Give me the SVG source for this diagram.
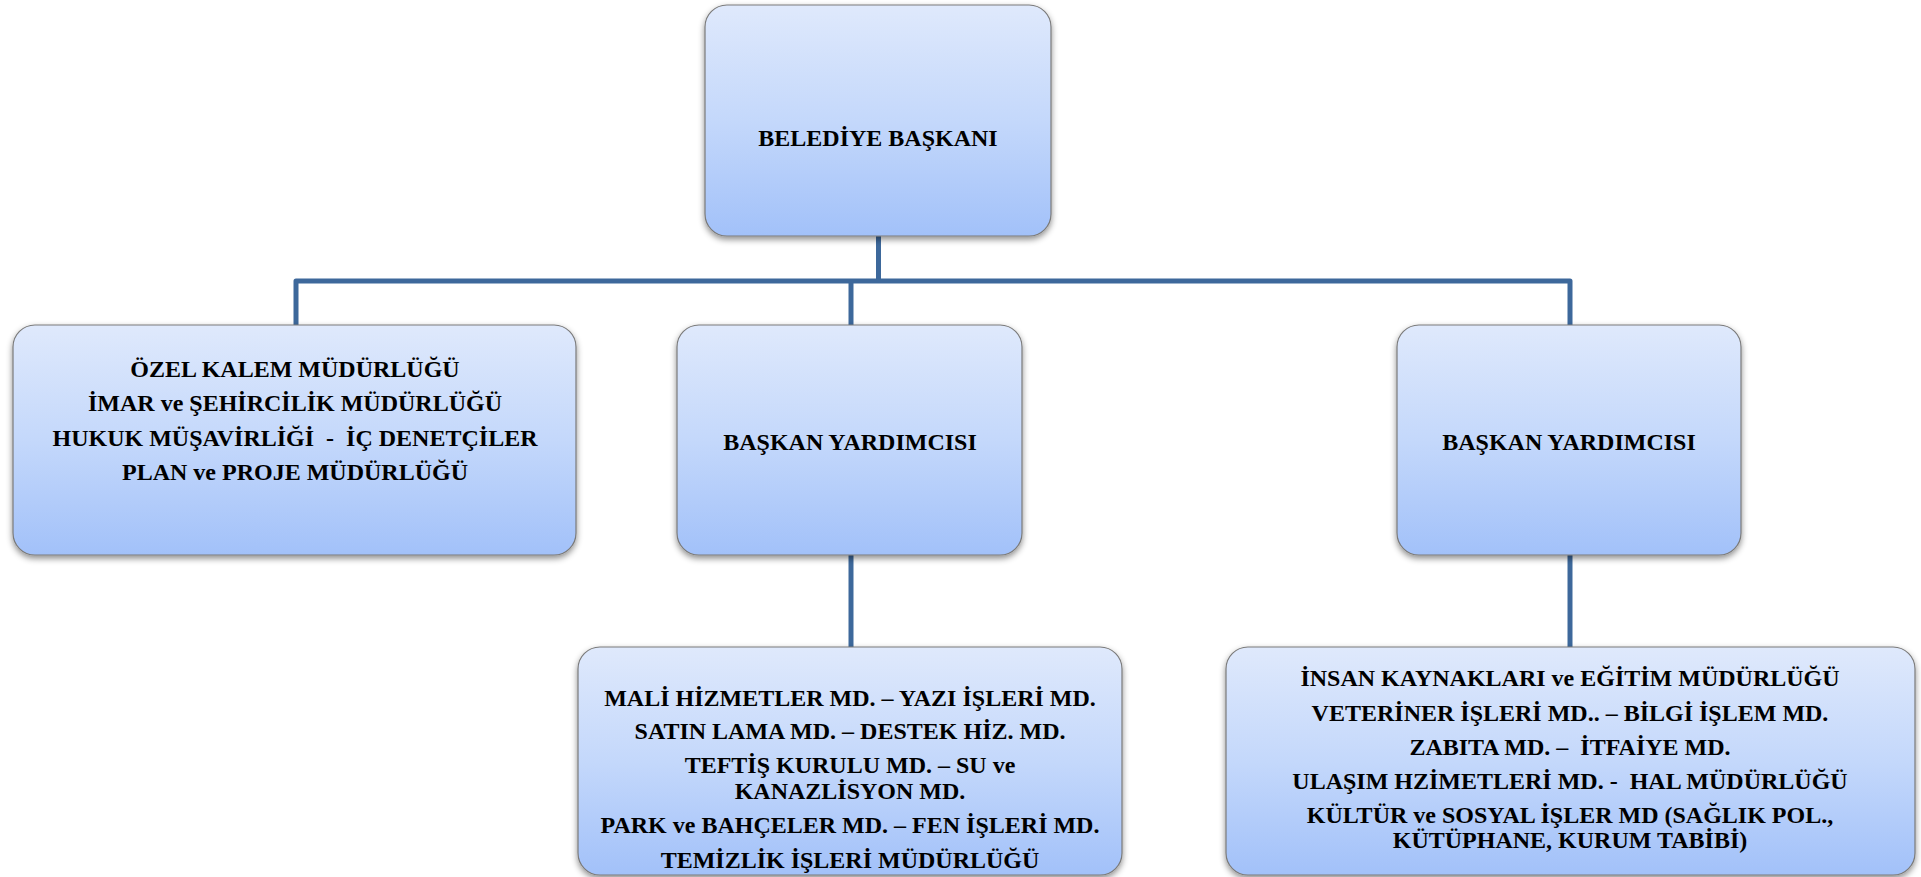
<svg xmlns="http://www.w3.org/2000/svg" width="1921" height="877" viewBox="0 0 1921 877">
<defs>
<linearGradient id="boxGrad" x1="0" y1="0" x2="0" y2="1">
<stop offset="0" stop-color="#dfe9fc"/>
<stop offset="0.5" stop-color="#c4d8fb"/>
<stop offset="1" stop-color="#a2c1f9"/>
</linearGradient>
<filter id="shadow" x="-10%" y="-10%" width="120%" height="125%">
<feDropShadow dx="0" dy="3" stdDeviation="3" flood-color="#000" flood-opacity="0.45"/>
</filter>
</defs>
<style>
.box{fill:url(#boxGrad);stroke:#7a7a7a;stroke-width:1.2;filter:url(#shadow);}
.lbl{font-family:"Liberation Serif","Times New Roman",serif;font-weight:bold;font-size:24px;fill:#000;text-anchor:middle;white-space:pre;}
.conn{fill:none;stroke:#3d689b;stroke-width:5;stroke-linejoin:round;}
</style>
<rect width="1921" height="877" fill="#ffffff"/>
<g id="connectors">
<path class="conn" d="M878.5 236 V281"/>
<path class="conn" d="M296 325 V281 H1570 V325"/>
<path class="conn" d="M851 281 V325"/>
<path class="conn" d="M851 555 V647"/>
<path class="conn" d="M1570 555 V647"/>
</g>
<g id="belediye-baskani">
<rect class="box" x="705" y="5" width="346" height="231" rx="22"/>
<text class="lbl" x="878" y="146">BELEDİYE BAŞKANI</text>
</g>
<g id="ozel-kalem">
<rect class="box" x="13" y="325" width="563" height="230" rx="22"/>
<text class="lbl" x="295" y="377">ÖZEL KALEM MÜDÜRLÜĞÜ</text>
<text class="lbl" x="295" y="411">İMAR ve ŞEHİRCİLİK MÜDÜRLÜĞÜ</text>
<text class="lbl" x="295" y="446" xml:space="preserve">HUKUK MÜŞAVİRLİĞİ  -  İÇ DENETÇİLER</text>
<text class="lbl" x="295" y="480">PLAN ve PROJE MÜDÜRLÜĞÜ</text>
</g>
<g id="baskan-yardimcisi-1">
<rect class="box" x="677" y="325" width="345" height="230" rx="22"/>
<text class="lbl" x="850" y="450">BAŞKAN YARDIMCISI</text>
</g>
<g id="baskan-yardimcisi-2">
<rect class="box" x="1397" y="325" width="344" height="230" rx="22"/>
<text class="lbl" x="1569" y="450">BAŞKAN YARDIMCISI</text>
</g>
<g id="mudurlukler-1">
<rect class="box" x="578" y="647" width="544" height="228" rx="22"/>
<text class="lbl" x="850" y="706">MALİ HİZMETLER MD. – YAZI İŞLERİ MD.</text>
<text class="lbl" x="850" y="739">SATIN LAMA MD. – DESTEK HİZ. MD.</text>
<text class="lbl" x="850" y="773">TEFTİŞ KURULU MD. – SU ve</text>
<text class="lbl" x="850" y="799">KANAZLİSYON MD.</text>
<text class="lbl" x="850" y="833">PARK ve BAHÇELER MD. – FEN İŞLERİ MD.</text>
<text class="lbl" x="850" y="868">TEMİZLİK İŞLERİ MÜDÜRLÜĞÜ</text>
</g>
<g id="mudurlukler-2">
<rect class="box" x="1226" y="647" width="689" height="228" rx="22"/>
<text class="lbl" x="1570" y="686">İNSAN KAYNAKLARI ve EĞİTİM MÜDÜRLÜĞÜ</text>
<text class="lbl" x="1570" y="721">VETERİNER İŞLERİ MD.. – BİLGİ İŞLEM MD.</text>
<text class="lbl" x="1570" y="755" xml:space="preserve">ZABITA MD. –  İTFAİYE MD.</text>
<text class="lbl" x="1570" y="789" xml:space="preserve">ULAŞIM HZİMETLERİ MD. -  HAL MÜDÜRLÜĞÜ</text>
<text class="lbl" x="1570" y="823">KÜLTÜR ve SOSYAL İŞLER MD (SAĞLIK POL.,</text>
<text class="lbl" x="1570" y="848">KÜTÜPHANE, KURUM TABİBİ)</text>
</g>
</svg>
